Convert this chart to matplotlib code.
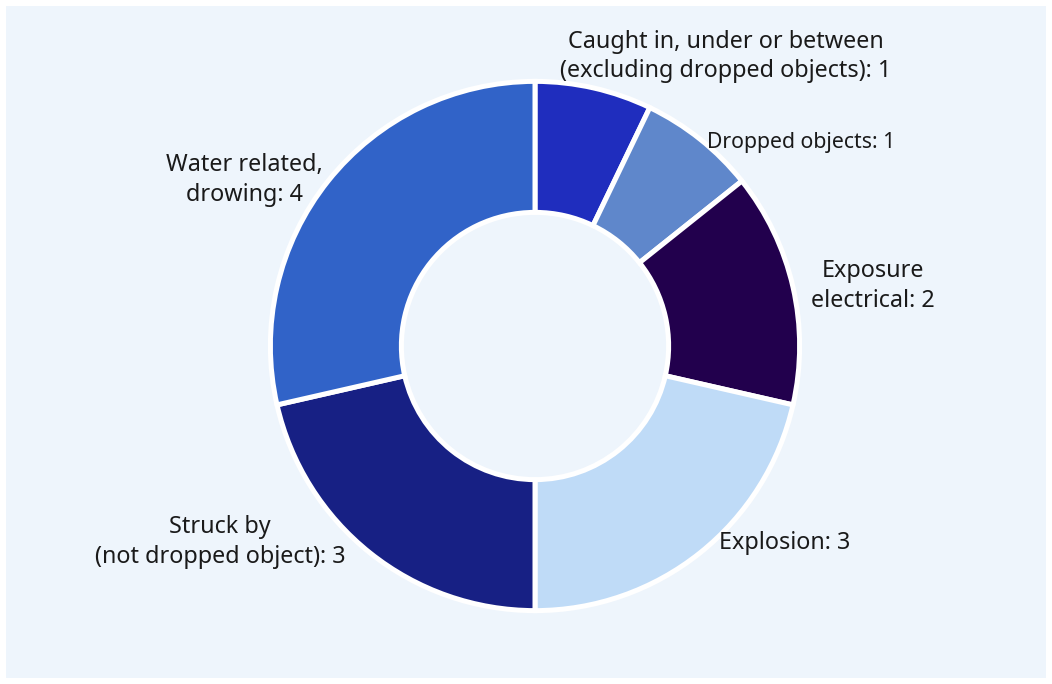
import matplotlib.pyplot as plt
from matplotlib.patches import Rectangle

# incident counts by category
categories = [
    "Caught in, under or between\n(excluding dropped objects)",
    "Dropped objects",
    "Exposure\nelectrical",
    "Explosion",
    "Struck by\n(not dropped object)",
    "Water related,\ndrowing",
]
counts = [1, 1, 2, 3, 3, 4]
colors = ["#1f2dbe", "#5f87cb", "#22004d", "#bfdbf7", "#172084", "#3163c8"]

# label anchors (axes data units, pie radius = 1), alignment and font size
label_pos = [(0.727, 1.105, "center", 16.8), (0.658, 0.775, "left", 15.3),
             (1.29, 0.228, "center", 16.8), (0.703, -0.752, "left", 16.8),
             (-1.202, -0.748, "center", 16.8), (-1.11, 0.634, "center", 16.8)]

W, H = 1052, 684
cx, cy, rpx = 535, 346, 262

fig = plt.figure(figsize=(W / 100, H / 100), dpi=100)
fig.patch.set_facecolor("white")
fig.patches.append(Rectangle((6 / W, 6 / H), (W - 12) / W, (H - 12) / H,
                             transform=fig.transFigure, facecolor="#eef5fc",
                             edgecolor="none", zorder=-10))

ax = fig.add_axes([0, 0, 1, 1])
ax.pie(counts, colors=colors, startangle=90, counterclock=False,
       radius=1.01,
       wedgeprops=dict(width=0.5, edgecolor="white", linewidth=3.6))
ax.set_xlim(-cx / rpx, (W - cx) / rpx)
ax.set_ylim(-(H - cy) / rpx, cy / rpx)
ax.set_aspect("equal")
ax.axis("off")

for cat, n, (x, y, ha, fs) in zip(categories, counts, label_pos):
    ax.text(x, y, f"{cat}: {n}", ha=ha, va="center", fontsize=fs,
            family=["Noto Sans", "DejaVu Sans"], color="#1a1a1a",
            multialignment="center", linespacing=1.32)

fig.savefig("out.png", dpi=100)
